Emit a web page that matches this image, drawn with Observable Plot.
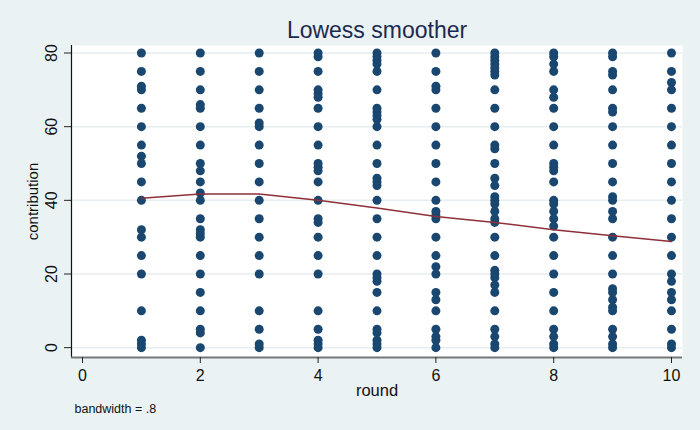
<!DOCTYPE html>
<html>
<head>
<meta charset="utf-8">
<script src="https://cdn.jsdelivr.net/npm/d3@7"></script>
<script src="https://cdn.jsdelivr.net/npm/@observablehq/plot@0.6"></script>
<style>
  html, body { margin: 0; padding: 0; background: #EAF2F3; }
</style>
</head>
<body>
<div id="chart"></div>
<script>
// contribution values observed at each round
const round1  = [80,75,71,70,65,60,55,52,50,45,40,32,30,25,20,10,2,1,0];
const round2  = [80,75,70,66,65,60,55,50,48,45,42,40,35,32,31,30,25,20,15,10,5,4,0];
const round3  = [80,75,70,65,61,60,55,50,45,40,35,30,25,20,10,5,1,0];
const round4  = [80,79,75,70,69,68,65,60,55,50,49,48,45,40,35,34,30,25,20,10,5,2,1,0];
const round5  = [80,79,78,77,75,70,65,64,63,62,60,55,50,46,45,44,40,35,30,25,20,19,18,15,10,5,4,2,1,0];
const round6  = [80,75,71,70,65,60,55,50,45,40,37,36,35,30,25,22,20,15,13,10,5,3,2,0];
const round7  = [80,79,78,77,76,75,74,70,65,60,55,54,50,46,44,41,40,39,37,35,34,30,25,21,20,19,17,15,10,5,3,1,0];
const round8  = [80,79,77,75,70,68,65,60,55,50,49,48,45,40,39,37,35,33,30,25,20,15,10,5,3,1,0];
const round9  = [80,79,75,74,70,65,64,60,55,50,45,41,40,37,35,30,25,20,16,15,13,11,10,5,3,1,0];
const round10 = [80,75,72,70,65,60,55,50,45,40,35,30,25,20,18,15,13,10,5,1,0];

const rounds = [1,2,3,4,5,6,7,8,9,10];
const lowess = [40.6,41.7,41.7,40.0,37.9,35.6,34.0,32.0,30.4,28.8];

const xTicks = [0,2,4,6,8,10];
const yTicks = [0,20,40,60,80];
const xDomain = [-0.187, 10.187];
const yDomain = [-2.67, 82.04];

const title = "Lowess smoother";
const xLabel = "round";
const yLabel = "contribution";
const note = "bandwidth = .8";

const byRound = [round1,round2,round3,round4,round5,round6,round7,round8,round9,round10];
const points = byRound.flatMap((vals, i) => vals.map(v => ({round: rounds[i], contribution: v})));
const smooth = rounds.map((r, i) => ({round: r, contribution: lowess[i]}));

const font = "'Liberation Sans', Arial, Helvetica, sans-serif";

const chart = Plot.plot({
  width: 700,
  height: 430,
  marginLeft: 71,
  marginRight: 18,
  marginTop: 45,
  marginBottom: 73,
  style: {background: "#EAF2F3", fontFamily: font, fontSize: "16px", color: "#111"},
  x: {domain: xDomain, label: null},
  y: {domain: yDomain, label: null},
  marks: [
    Plot.frame({fill: "white", stroke: null}),
    Plot.ruleY(yTicks, {stroke: "#E6EEF0", strokeWidth: 1.5}),
    Plot.dot(points, {x: "round", y: "contribution", r: 4.5, fill: "#1a476f", stroke: null}),
    Plot.line(smooth, {x: "round", y: "contribution", stroke: "#8f2f38", strokeWidth: 1.5}),
    Plot.ruleX([xDomain[0]], {stroke: "#111", strokeWidth: 1.2}),
    Plot.ruleY([yDomain[0]], {stroke: "#777", strokeWidth: 2}),
    Plot.axisX({ticks: xTicks, tickSize: 6, tickPadding: 6, fontSize: 16, label: null, stroke: "#222"}),
    Plot.axisY({ticks: yTicks, tickSize: 7, tickFormat: () => "", label: null, stroke: "#222"}),
    Plot.text(yTicks, {x: xDomain[0], y: d => d, text: d => String(d), rotate: -90, dx: -20,
      textAnchor: "middle", lineAnchor: "middle", fontSize: 16, fill: "#111"}),
    Plot.text([title], {frameAnchor: "top", dy: -8, lineAnchor: "bottom", fontSize: 23, fill: "#1c2a4f"}),
    Plot.text([yLabel], {frameAnchor: "left", rotate: -90, dx: -38, textAnchor: "middle", lineAnchor: "middle", fontSize: 15, fill: "#111"}),
    Plot.text([xLabel], {frameAnchor: "bottom", dy: 33, lineAnchor: "middle", fontSize: 16.5, fill: "#111"}),
    Plot.text([note], {frameAnchor: "bottom-left", dx: 3, dy: 51, textAnchor: "start", lineAnchor: "middle", fontSize: 12.5, fill: "#111"})
  ]
});
document.getElementById("chart").appendChild(chart);
</script>
</body>
</html>
